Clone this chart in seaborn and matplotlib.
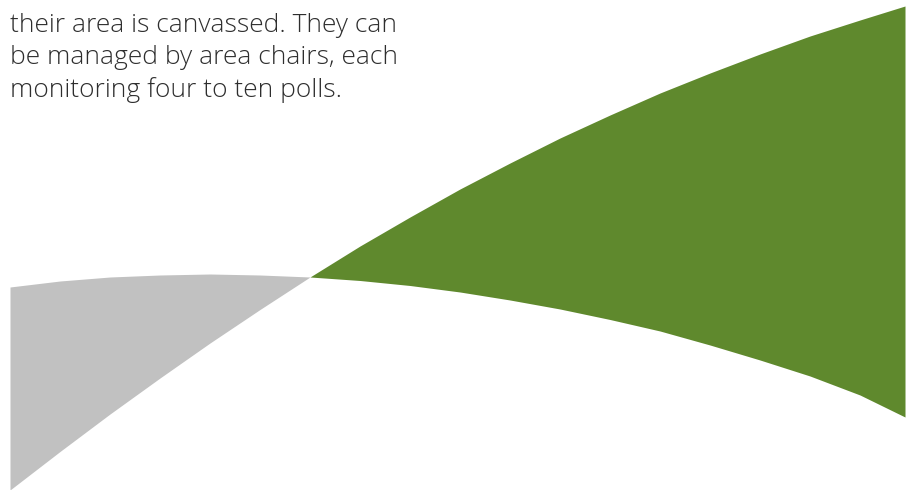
import matplotlib
matplotlib.use("Agg")
import matplotlib.pyplot as plt
import seaborn as sns
import numpy as np

sns.set_theme(style="white")
plt.rcParams["font.family"] = ["Open Sans", "DejaVu Sans"]

# horizontal positions (pixels) and the two crossing edges
x_pos = [10, 60, 110, 160, 210, 260, 310, 360, 410, 460, 510, 560,
         610, 660, 710, 760, 810, 860, 905]
edge_a = [287, 281, 277, 275, 274, 275, 277, 280.5, 285.5, 292, 300, 309,
          319.5, 331, 345, 360, 376, 395, 417]
edge_b = [490, 451.5, 414, 378, 343, 309.5, 277, 246, 217, 189, 163, 138,
          115, 93, 73, 54, 36, 20, 6]

text_lines = ["their area is canvassed. They can",
              "be managed by area chairs, each",
              "monitoring four to ten polls."]

GREY = "#c1c1c1"
GREEN = "#5f892d"

x = np.array(x_pos, dtype=float)
a = np.array(edge_a, dtype=float)
b = np.array(edge_b, dtype=float)

fig = plt.figure(figsize=(9.09, 4.90), dpi=100)
ax = fig.add_axes([0, 0, 1, 1])
ax.set_xlim(0, 909)
ax.set_ylim(490, 0)
ax.axis("off")

# grey where edge a lies above edge b (left), green on the right
ax.fill_between(x, a, b, where=a <= b, interpolate=True, color=GREY, lw=0)
ax.fill_between(x, a, b, where=a >= b, interpolate=True, color=GREEN, lw=0)

for i, line in enumerate(text_lines):
    ax.text(10, 32 + i * 32.5, line, fontsize=19, fontweight="light",
            color="#2e2e2e", va="baseline", ha="left")

fig.savefig("out.png", dpi=100)
